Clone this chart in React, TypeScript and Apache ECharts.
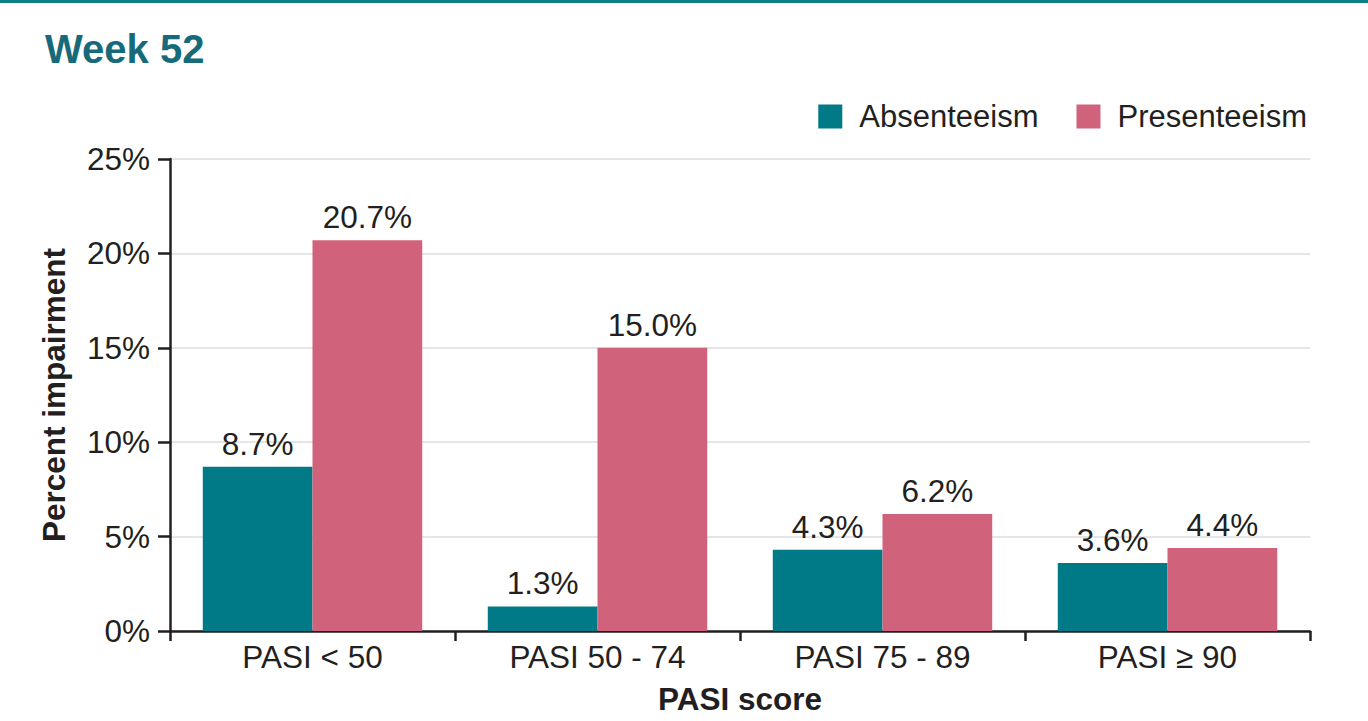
import React, { useEffect, useRef } from "react";
import * as echarts from "echarts";

const categories = ["PASI < 50", "PASI 50 - 74", "PASI 75 - 89", "PASI ≥ 90"];
const absenteeism = [8.7, 1.3, 4.3, 3.6];
const presenteeism = [20.7, 15.0, 6.2, 4.4];
const seriesNames = ["Absenteeism", "Presenteeism"];
const yTicks = [0, 5, 10, 15, 20, 25];

const FONT = "'Liberation Sans', Arial, Helvetica, sans-serif";
const TEAL = "#007a87";
const PINK = "#d0637b";
const DARK = "#231f20";
const FS = 31.5;

export default function App() {
  const ref = useRef<HTMLDivElement>(null);
  useEffect(() => {
    if (!ref.current) return;
    const chart = echarts.init(ref.current, null, { renderer: "svg" });
    const label = {
      show: true,
      position: "top" as const,
      distance: 7,
      fontSize: FS,
      color: DARK,
      fontFamily: FONT,
      formatter: (p: any) => `${Number(p.value).toFixed(1)}%`,
    };
    chart.setOption({
      animation: false,
      textStyle: { fontFamily: FONT },
      graphic: [
        { type: "rect", left: 0, top: 0, shape: { width: 1368, height: 3 }, style: { fill: "#0f7f87" } },
      ],
      title: {
        text: "Week 52",
        left: 40,
        top: 24,
        textStyle: { fontSize: 40, fontWeight: "bold", color: "#166a7a", fontFamily: FONT },
      },
      legend: {
        data: seriesNames,
        right: 56,
        top: 96,
        itemWidth: 24,
        itemHeight: 24,
        itemGap: 38,
        icon: "rect",
        textStyle: { fontSize: 31, color: DARK, fontFamily: FONT, padding: [0, 0, 0, 12] },
      },
      grid: { left: 170, right: 58, top: 159, bottom: 90, containLabel: false },
      xAxis: {
        type: "category",
        data: categories,
        name: "PASI score",
        nameLocation: "middle",
        nameGap: 52,
        nameTextStyle: { fontSize: FS, fontWeight: "bold", color: DARK, fontFamily: FONT },
        axisLine: { lineStyle: { color: DARK, width: 2.5 } },
        axisTick: { show: true, length: 10, lineStyle: { color: DARK, width: 2.5 } },
        axisLabel: { fontSize: FS, color: DARK, margin: 10, fontFamily: FONT },
      },
      yAxis: {
        type: "value",
        min: yTicks[0],
        max: yTicks[yTicks.length - 1],
        interval: 5,
        name: "Percent impairment",
        nameLocation: "middle",
        nameGap: 100,
        nameTextStyle: { fontSize: FS, fontWeight: "bold", color: DARK, fontFamily: FONT },
        axisLine: { show: true, lineStyle: { color: DARK, width: 2.5 } },
        axisTick: { show: true, length: 12, lineStyle: { color: DARK, width: 2.5 } },
        axisLabel: { fontSize: FS, color: DARK, margin: 20, fontFamily: FONT, formatter: "{value}%" },
        splitLine: { show: true, lineStyle: { color: "#dcdcdc", width: 1.5 } },
      },
      series: [
        {
          name: seriesNames[0],
          type: "bar",
          data: absenteeism,
          itemStyle: { color: TEAL },
          barGap: "0%",
          barCategoryGap: "23%",
          label,
        },
        {
          name: seriesNames[1],
          type: "bar",
          data: presenteeism,
          itemStyle: { color: PINK },
          barGap: "0%",
          barCategoryGap: "23%",
          label,
        },
      ],
    });
    return () => chart.dispose();
  }, []);
  return (
    <div
      ref={ref}
      style={{ position: "fixed", left: 0, top: 0, width: 1368, height: 721, background: "#fff" }}
    />
  );
}
